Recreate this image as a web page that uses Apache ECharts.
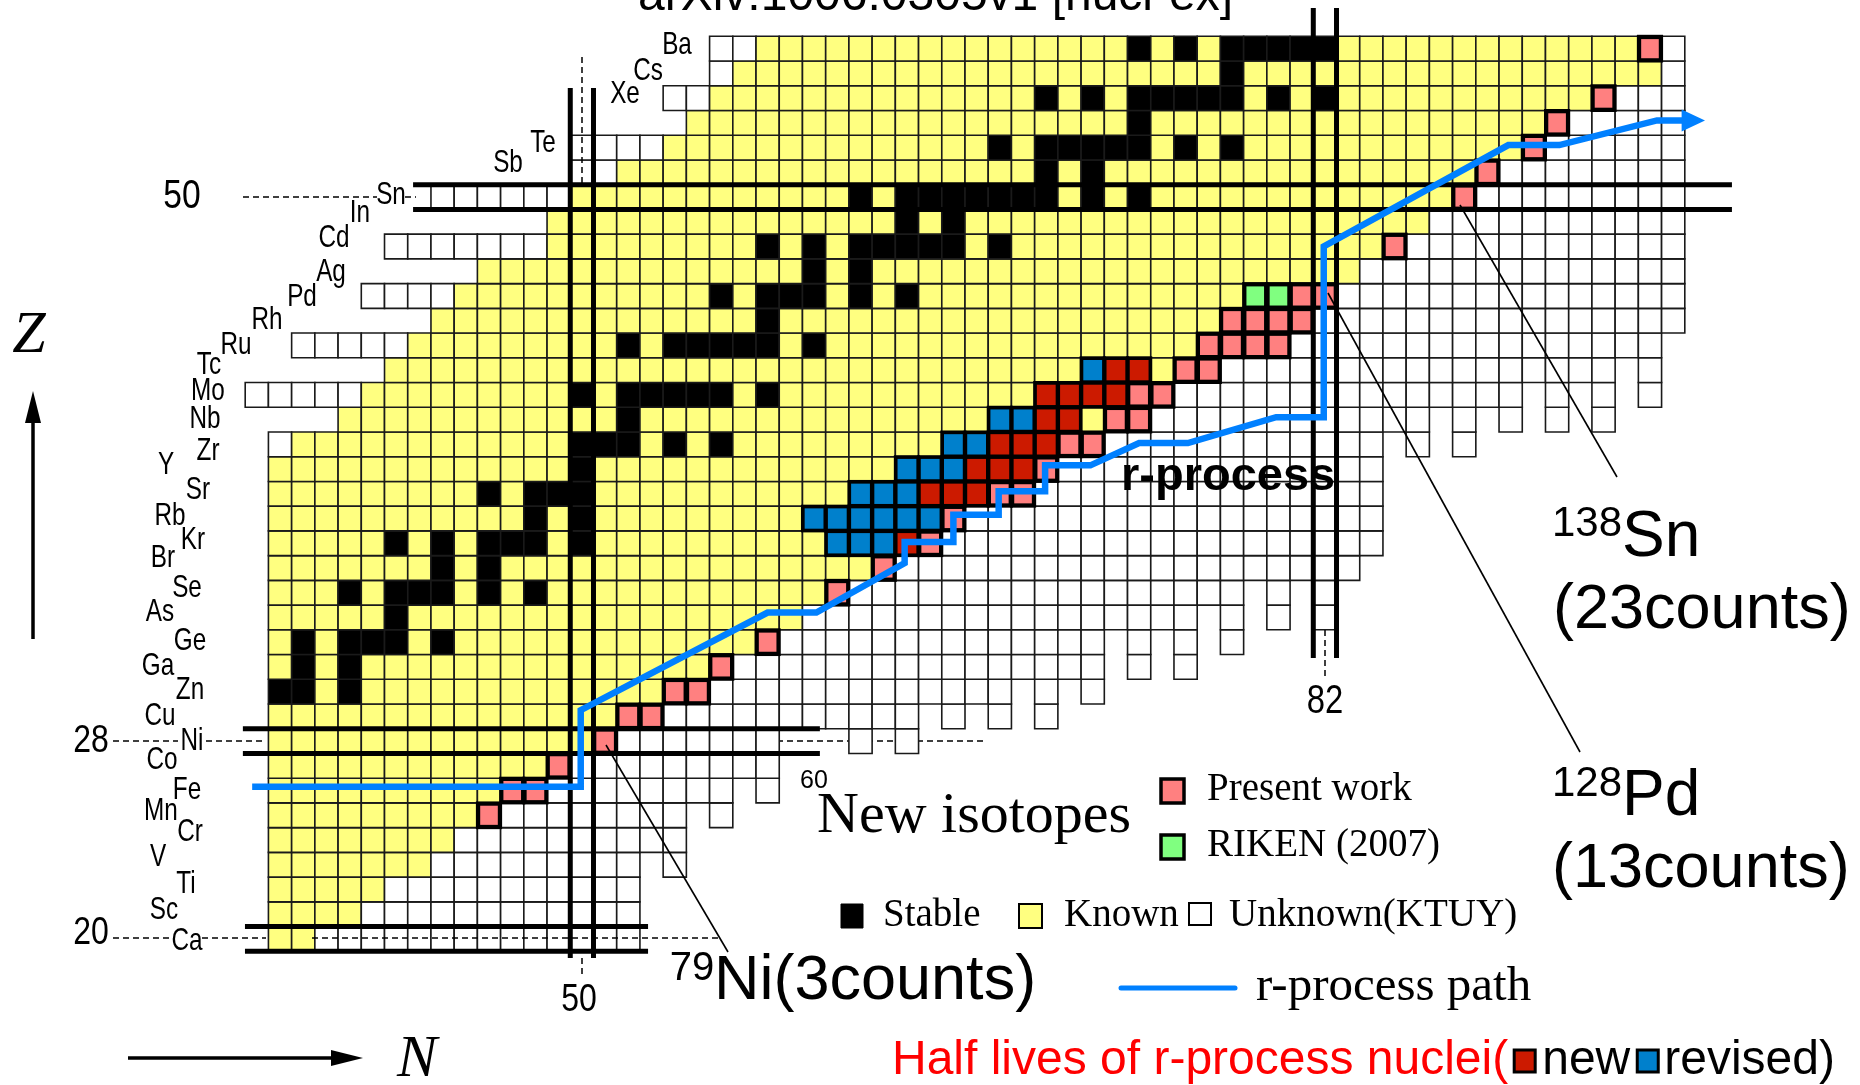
<!DOCTYPE html>
<html>
<head>
<meta charset="utf-8">
<title>Chart of nuclides - new isotopes</title>
<script src="https://cdn.jsdelivr.net/npm/echarts@6.0.0/dist/echarts.min.js"></script>
<style>
html,body{margin:0;padding:0;background:#ffffff;}
#chart{width:1860px;height:1085px;}
</style>
</head>
<body>
<div id="chart"></div>
<script>
// ---------------- DATA ----------------
// rows: proton number Z and element symbol
const zValues = [20,21,22,23,24,25,26,27,28,29,30,31,32,33,34,35,36,37,38,39,40,41,42,43,44,45,46,47,48,49,50,51,52,53,54,55,56];
const elements = ['Ca','Sc','Ti','V','Cr','Mn','Fe','Co','Ni','Cu','Zn','Ga','Ge','As','Se','Br','Kr','Rb','Sr','Y','Zr','Nb','Mo','Tc','Ru','Rh','Pd','Ag','Cd','In','Sn','Sb','Te','I','Xe','Cs','Ba'];
// first neutron number drawn in each row
const rowFirstN = [37,37,37,37,37,37,37,37,37,37,37,37,37,37,37,37,37,37,37,37,37,40,36,42,38,44,41,46,42,49,44,50,50,55,54,56,56];
// known isotopes: first and last N per row
const knownFirstN = [37,37,37,37,37,37,37,37,37,37,37,37,37,37,37,37,37,37,37,37,38,40,41,42,43,44,45,46,49,49,50,52,54,55,56,57,58];
const knownLastN  = [38,40,41,43,44,45,46,48,50,51,53,55,57,59,60,62,64,65,67,69,70,72,73,75,76,77,78,83,84,86,87,88,90,91,93,96,95];
// columns N = 36..97 : lowest Z drawn (KTUY neutron drip line)
const nFirst = 36, nLast = 97;
const lowestZ = [20,20,20,20,20,20,20,20,20,20,20,20,20,20,20,20,20,
  24,23,26,25,27,26,29,29,29,28,
  29,28,30,29,30,29,31,29,31,30,
  33,31,33,31,34,32,35,33,35,33,
  35,36,41,40,42,40,42,41,43,41,
  43,41,44,42,45];
// stable nuclides [N, Z]
const stableCells = [
 [37,30],[38,30],[40,30],[38,31],[40,31],
 [38,32],[40,32],[41,32],[42,32],[44,32],[42,33],
 [40,34],[42,34],[43,34],[44,34],[46,34],[48,34],[44,35],[46,35],
 [42,36],[44,36],[46,36],[47,36],[48,36],[50,36],[48,37],[50,37],
 [46,38],[48,38],[49,38],[50,38],[50,39],
 [50,40],[51,40],[52,40],[54,40],[56,40],[52,41],
 [50,42],[52,42],[53,42],[54,42],[55,42],[56,42],[58,42],
 [52,44],[54,44],[55,44],[56,44],[57,44],[58,44],[60,44],[58,45],
 [56,46],[58,46],[59,46],[60,46],[62,46],[64,46],[60,47],[62,47],
 [58,48],[60,48],[62,48],[63,48],[64,48],[65,48],[66,48],[68,48],[64,49],[66,49],
 [62,50],[64,50],[65,50],[66,50],[67,50],[68,50],[69,50],[70,50],[72,50],[74,50],
 [70,51],[72,51],
 [68,52],[70,52],[71,52],[72,52],[73,52],[74,52],[76,52],[78,52],[74,53],
 [70,54],[72,54],[74,54],[75,54],[76,54],[77,54],[78,54],[80,54],[82,54],[78,55],
 [74,56],[76,56],[78,56],[79,56],[80,56],[81,56],[82,56]
];
// new isotopes, present work [N, Z]
const presentWork = [
 [46,25],[47,26],[48,26],[49,27],[51,28],[52,29],[53,29],[54,30],[55,30],[56,31],[58,32],
 [61,34],[63,35],[65,36],[66,37],[68,38],[69,38],[70,39],[71,40],[72,40],[73,41],[74,41],
 [74,42],[75,42],[76,43],[77,43],[77,44],[78,44],[79,44],[80,44],[78,45],[79,45],[80,45],[81,45],
 [81,46],[82,46],[85,48],[88,50],[89,51],[91,52],[92,53],[94,54],[96,56]
];
// new isotopes, RIKEN (2007)
const riken2007 = [[79,46],[80,46]];
// half-lives of r-process nuclei: new
const newHalfLives = [
 [64,36],[65,38],[66,38],[67,38],[67,39],[68,39],[69,39],[68,40],[69,40],[70,40],
 [70,41],[71,41],[70,42],[71,42],[72,42],[73,42],[73,43],[74,43]
];
// half-lives of r-process nuclei: revised
const revisedHalfLives = [
 [61,36],[62,36],[63,36],[60,37],[61,37],[62,37],[63,37],[64,37],[65,37],
 [62,38],[63,38],[64,38],[64,39],[65,39],[66,39],[66,40],[67,40],[68,41],[69,41],[72,43]
];
// r-process path (N, Z)
const rPathN = [35.8,49.95,49.95,58.0,60.1,63.9,63.9,66.0,66.0,67.95,67.95,69.95,69.95,71.9,74.0,76.1,79.9,81.95,81.95,89.9,92.1,96.3,97.45];
const rPathZ = [26.15,26.15,29.25,33.2,33.2,35.2,36.05,36.05,37.15,37.15,38.1,38.1,39.15,39.15,40.05,40.05,41.1,41.1,48.0,52.1,52.1,53.1,53.1];
const rPathTip = [98.37, 53.1];
// magic numbers (double lines) and their extents
const magicZ = [50, 28, 20];
const magicZFromN = [42.73, 35.40, 35.49];
const magicZToN = [99.53, 60.25, 52.85];
const magicN = [50, 82];
const magicNFromZ = [19.23, 31.36];
const magicNToZ = [54.41, 57.64];

// ---------------- BUILD CELLS ----------------
const T_UNKNOWN = 0, T_KNOWN = 1, T_STABLE = 2, T_PRESENT = 3, T_RIKEN = 4, T_NEW = 5, T_REV = 6;
const fills = ['#ffffff', '#ffff80', '#000000', '#ff8080', '#80ff80', '#cc1a00', '#0080cc'];
const key = (n, z) => n + ',' + z;
const specialMap = {};
presentWork.forEach(([n, z]) => specialMap[key(n, z)] = T_PRESENT);
riken2007.forEach(([n, z]) => specialMap[key(n, z)] = T_RIKEN);
newHalfLives.forEach(([n, z]) => specialMap[key(n, z)] = T_NEW);
revisedHalfLives.forEach(([n, z]) => specialMap[key(n, z)] = T_REV);
const stableSet = new Set(stableCells.map(([n, z]) => key(n, z)));

const normalCells = [], specialCells = [];
zValues.forEach((z, i) => {
  for (let n = rowFirstN[i]; n <= nLast; n++) {
    if (z < lowestZ[n - nFirst]) continue;
    const k = key(n, z);
    if (specialMap[k] !== undefined) { specialCells.push([n, z, specialMap[k]]); continue; }
    let t = (n >= knownFirstN[i] && n <= knownLastN[i]) ? T_KNOWN : T_UNKNOWN;
    if (stableSet.has(k)) t = T_STABLE;
    normalCells.push([n, z, t]);
  }
});

function cellBox(api, n, z) {
  const a = api.coord([n - 0.5, z + 0.5]);
  const b = api.coord([n + 0.5, z - 0.5]);
  return { x: a[0], y: a[1], w: b[0] - a[0], h: b[1] - a[1] };
}

// ---------------- GRAPHIC ANNOTATIONS ----------------
const SANS = '"Liberation Sans", Arial, sans-serif';
const SERIF = '"Liberation Serif", "Times New Roman", serif';
const mctx = document.createElement('canvas').getContext('2d');
function measure(text, font) { mctx.font = font; return mctx.measureText(text).width; }
function txt(x, y, text, font, opt) {
  opt = opt || {};
  const el = {
    type: 'text', x: x, y: y, z: 100,
    style: {
      text: text, font: font, fill: opt.fill || '#000',
      align: opt.align || 'left', textAlign: opt.align || 'left',
      verticalAlign: 'middle', textVerticalAlign: 'middle'
    }
  };
  if (opt.scaleX) el.scaleX = opt.scaleX;
  return el;
}
function seg(x1, y1, x2, y2, w, dash, z) {
  const el = { type: 'line', z: z === undefined ? 100 : z, shape: { x1, y1, x2, y2 },
    style: { stroke: '#000', lineWidth: w } };
  if (dash) el.style.lineDash = dash;
  return el;
}
function box(x, y, w, h, fill, lw) {
  return { type: 'rect', z: 100, shape: { x, y, width: w, height: h },
    style: { fill: fill, stroke: '#000', lineWidth: lw } };
}
function tri(points) {
  return { type: 'polygon', z: 100, shape: { points: points }, style: { fill: '#000' } };
}

const labelPos = {
  Ca:[187,941], Sc:[164,910], Ti:[186,884], V:[158,857], Cr:[190,832], Mn:[161,811], Fe:[187,790],
  Co:[162,760], Ni:[192,741], Cu:[160,716], Zn:[190,690], Ga:[158,666], Ge:[190,641], As:[160,612],
  Se:[187,588], Br:[163,558], Kr:[193,540], Rb:[170,516], Sr:[198,490], Y:[166,465], Zr:[208,451],
  Nb:[205,419], Mo:[208,391], Tc:[209,365], Ru:[236,345], Rh:[267,320], Pd:[302,297], Ag:[331,272],
  Cd:[334,238], In:[360,213], Sn:[391,195], Sb:[508,163], Te:[543,143], Xe:[625,94], Cs:[648,71], Ba:[677,45]
};
const graphics = [];
elements.forEach(sym => {
  if (labelPos[sym]) graphics.push(txt(labelPos[sym][0], labelPos[sym][1], sym, '32px ' + SANS, { align: 'center', scaleX: 0.76 }));
});
// magic number tick labels
graphics.push(txt(182, 197, '50', '41px ' + SANS, { align: 'center', scaleX: 0.82 }));
graphics.push(txt(91, 741, '28', '39px ' + SANS, { align: 'center', scaleX: 0.82 }));
graphics.push(txt(91, 933, '20', '39px ' + SANS, { align: 'center', scaleX: 0.82 }));
graphics.push(txt(579, 1000, '50', '39px ' + SANS, { align: 'center', scaleX: 0.82 }));
graphics.push(txt(1325, 702, '82', '40px ' + SANS, { align: 'center', scaleX: 0.82 }));
graphics.push(txt(814, 781, '60', '25px ' + SANS, { align: 'center' }));
// dashed guide lines
const D = [6, 4];
graphics.push(seg(243, 197, 377, 197, 1.5, D));
graphics.push(seg(405, 197, 416, 197, 1.5, D));
graphics.push(seg(113, 741, 178, 741, 1.5, D));
graphics.push(seg(206, 741, 266, 741, 1.5, D));
graphics.push(seg(777, 741, 983, 741, 1.5, D, 1));
graphics.push(seg(113, 938, 172, 938, 1.5, D));
graphics.push(seg(202, 938, 266, 938, 1.5, D));
graphics.push(seg(312, 938, 718, 938, 1.5, D));
graphics.push(seg(582, 57, 582, 184, 1.5, D));
graphics.push(seg(582, 958, 582, 978, 1.5, D));
graphics.push(seg(1325, 630, 1325, 678, 1.5, D));
// axis arrows and titles
graphics.push(seg(33, 639, 33, 418, 3.5));
graphics.push(tri([[33, 391], [25, 423], [41, 423]]));
graphics.push(seg(128, 1058, 336, 1058, 3.5));
graphics.push(tri([[363, 1058], [331, 1050], [331, 1066]]));
graphics.push(txt(29, 336, 'Z', 'italic 60px ' + SERIF, { align: 'center' }));
graphics.push(txt(417, 1060, 'N', 'italic 60px ' + SERIF, { align: 'center' }));
// title (clipped at top)
graphics.push(txt(638, -3, 'arXiv:1006.0305v1 [nucl-ex]', '48px ' + SANS));
// r-process label
graphics.push(txt(1121, 477, 'r-process', 'bold 47px ' + SANS));
// pointer lines and nuclide annotations
graphics.push(seg(606, 745, 728, 952, 1.6));
graphics.push(seg(1328, 293, 1580, 752, 1.6));
graphics.push(seg(1460, 205, 1617, 477, 1.6));
graphics.push(txt(692, 969, '79', '40px ' + SANS, { align: 'center' }));
graphics.push(txt(714, 982, 'Ni(3counts)', '63px ' + SANS));
graphics.push(txt(1587, 524, '138', '42px ' + SANS, { align: 'center' }));
graphics.push(txt(1622, 538, 'Sn', '64px ' + SANS));
graphics.push(txt(1553, 611, '(23counts)', '63px ' + SANS));
graphics.push(txt(1587, 784, '128', '42px ' + SANS, { align: 'center' }));
graphics.push(txt(1622, 797, 'Pd', '64px ' + SANS));
graphics.push(txt(1552, 870, '(13counts)', '63px ' + SANS));
// legend
graphics.push(txt(817, 817, 'New isotopes', '58px ' + SERIF));
graphics.push(box(1161, 779, 23, 24, '#ff8080', 3.5));
graphics.push(txt(1207, 790, 'Present work', '39px ' + SERIF));
graphics.push(box(1161, 835, 23, 24, '#80ff80', 3.5));
graphics.push(txt(1207, 846, 'RIKEN (2007)', '39px ' + SERIF));
graphics.push(box(841, 904, 22, 24, '#000000', 1));
graphics.push(txt(883, 916, 'Stable', '39px ' + SERIF));
graphics.push(box(1019, 904, 23, 24, '#ffff80', 2));
graphics.push(txt(1064, 916, 'Known', '39px ' + SERIF));
graphics.push(box(1189, 903, 22, 22, '#ffffff', 2));
graphics.push(txt(1229, 916, 'Unknown(KTUY)', '39px ' + SERIF));
graphics.push({ type: 'line', z: 100, shape: { x1: 1121, y1: 988, x2: 1235, y2: 988 },
  style: { stroke: '#0080ff', lineWidth: 5, lineCap: 'round' } });
graphics.push(txt(1256, 987, 'r-process path', '49px ' + SERIF));
// half-lives legend line, laid out sequentially
(function () {
  const f = '48px ' + SANS;
  const y = 1061;
  let x = 892;
  const t1 = 'Half lives of r-process nuclei(';
  graphics.push(txt(x, y, t1, f, { fill: '#ff0000' }));
  x += measure(t1, f) + 6;
  graphics.push(box(x, y - 11, 21, 22, '#cc1a00', 3));
  x += 21 + 7;
  graphics.push(txt(x, y, 'new', f));
  x += measure('new', f) + 7;
  graphics.push(box(x, y - 11, 21, 22, '#0080cc', 3));
  x += 21 + 6;
  graphics.push(txt(x, y, 'revised)', f));
})();

// ---------------- CHART ----------------
const chart = echarts.init(document.getElementById('chart'), null, { renderer: 'canvas' });
chart.setOption({
  backgroundColor: '#ffffff',
  animation: false,
  grid: { left: 245.2, top: 36.3, width: 1439.6, height: 915 },
  xAxis: { type: 'value', min: 35.5, max: 97.5, show: false },
  yAxis: { type: 'value', min: 19.5, max: 56.5, show: false },
  graphic: graphics,
  series: [
    {
      name: 'cells', type: 'custom', z: 2, silent: true,
      data: normalCells,
      renderItem: function (params, api) {
        const b = cellBox(api, api.value(0), api.value(1));
        const t = api.value(2);
        return { type: 'rect', shape: { x: b.x, y: b.y, width: b.w, height: b.h },
          style: { fill: fills[t], stroke: '#1a1a1a', lineWidth: 1.6 } };
      }
    },
    {
      name: 'highlighted', type: 'custom', z: 3, silent: true,
      data: specialCells,
      renderItem: function (params, api) {
        const b = cellBox(api, api.value(0), api.value(1));
        const t = api.value(2);
        const ins = (t === T_PRESENT || t === T_RIKEN) ? 2.8 : 2.2;
        return { type: 'group', children: [
          { type: 'rect', shape: { x: b.x - 1.5, y: b.y - 1.5, width: b.w + 3, height: b.h + 3 }, style: { fill: '#000' } },
          { type: 'rect', shape: { x: b.x + ins, y: b.y + ins, width: b.w - 2 * ins, height: b.h - 2 * ins }, style: { fill: fills[t] } }
        ] };
      }
    },
    {
      name: 'magicZ', type: 'custom', z: 4, silent: true,
      data: magicZ.map((z, i) => [i]),
      renderItem: function (params, api) {
        const i = params.dataIndex;
        const z = magicZ[i];
        const kids = [z + 0.5, z - 0.5].map(zb => {
          const p1 = api.coord([magicZFromN[i], zb]);
          const p2 = api.coord([magicZToN[i], zb]);
          return { type: 'line', shape: { x1: p1[0], y1: p1[1], x2: p2[0], y2: p2[1] }, style: { stroke: '#000', lineWidth: 5 } };
        });
        return { type: 'group', children: kids };
      }
    },
    {
      name: 'magicN', type: 'custom', z: 4, silent: true,
      data: magicN.map((n, i) => [i]),
      renderItem: function (params, api) {
        const i = params.dataIndex;
        const n = magicN[i];
        const kids = [n - 0.5, n + 0.5].map(nb => {
          const p1 = api.coord([nb, magicNFromZ[i]]);
          const p2 = api.coord([nb, magicNToZ[i]]);
          return { type: 'line', shape: { x1: p1[0], y1: p1[1], x2: p2[0], y2: p2[1] }, style: { stroke: '#000', lineWidth: 5 } };
        });
        return { type: 'group', children: kids };
      }
    },
    {
      name: 'r-process path', type: 'line', z: 5, silent: true, clip: false,
      symbol: 'none', smooth: false,
      data: rPathN.map((n, i) => [n, rPathZ[i]]),
      lineStyle: { color: '#0080ff', width: 6.5, join: 'miter' }
    },
    {
      name: 'r-process arrow', type: 'custom', z: 5, silent: true,
      data: [[rPathTip[0], rPathTip[1]]],
      renderItem: function (params, api) {
        const tip = api.coord([api.value(0), api.value(1)]);
        const base = api.coord([rPathN[rPathN.length - 1], rPathZ[rPathZ.length - 1]]);
        return { type: 'polygon', shape: { points: [[tip[0], tip[1]], [base[0] - 2, base[1] - 11], [base[0] - 2, base[1] + 11]] },
          style: { fill: '#0080ff' } };
      }
    }
  ]
});
</script>
</body>
</html>
